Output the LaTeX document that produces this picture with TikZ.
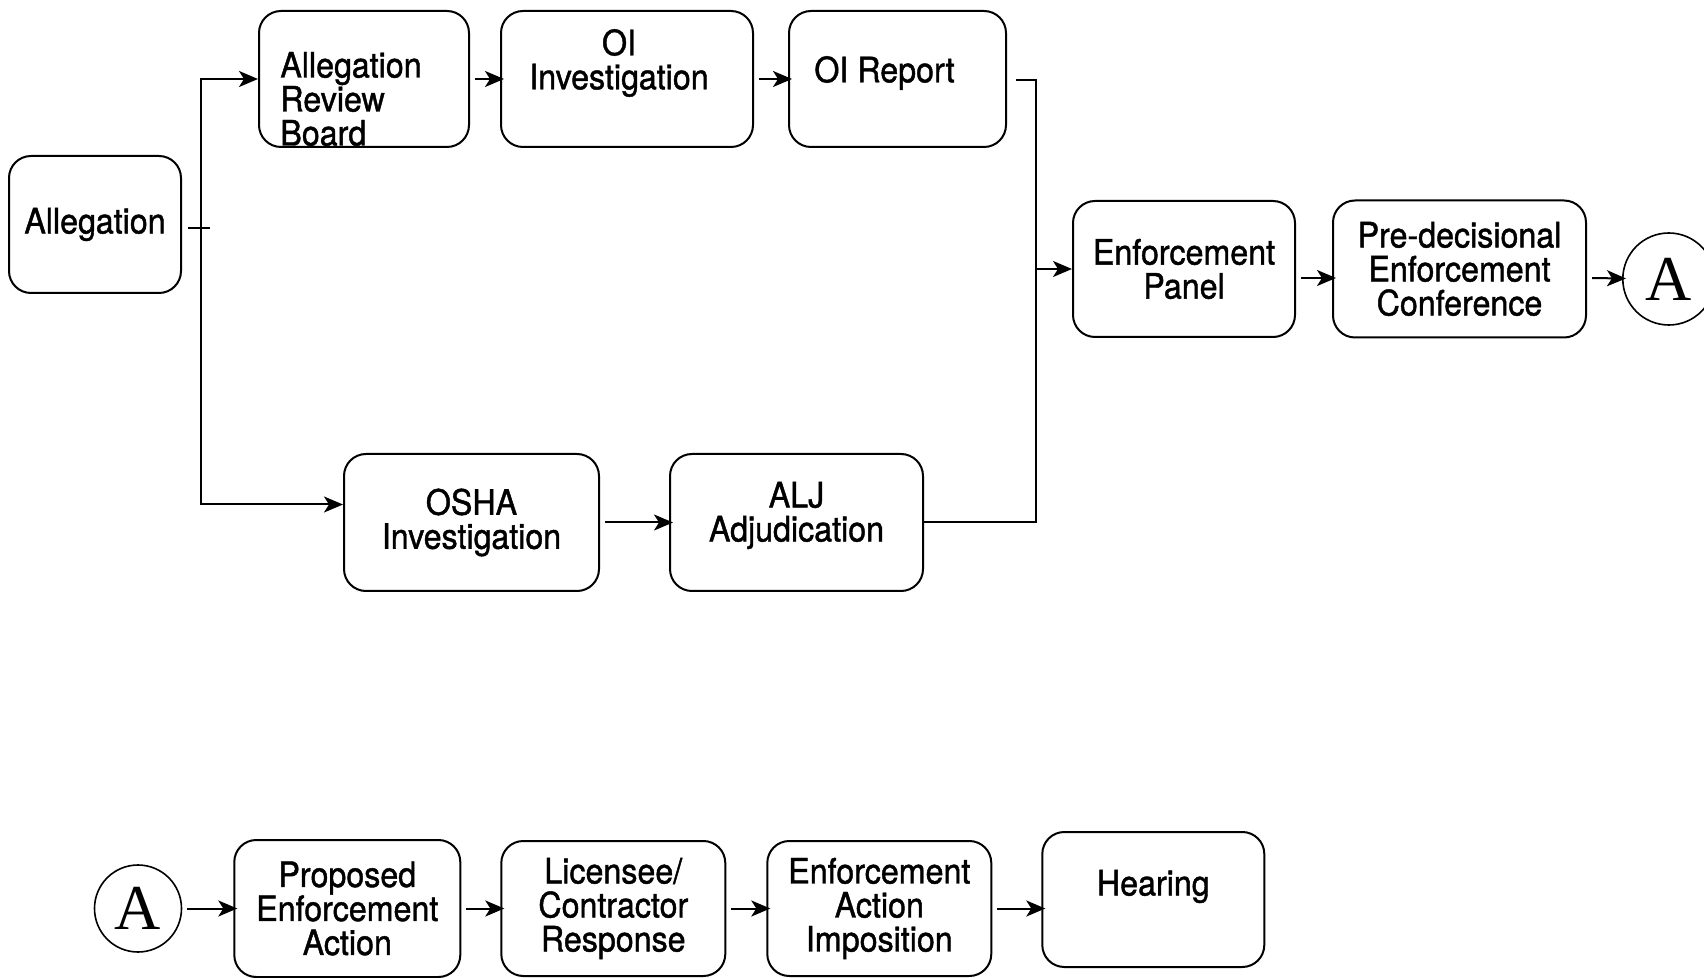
\documentclass[tikz,border=0pt]{standalone}
\usepackage{fontspec}
\setmainfont{TeX Gyre Heros}[FakeStretch=0.92,FakeBold=1.2]
\newfontfamily\letterfont{Liberation Serif}
\usetikzlibrary{positioning,calc,arrows.meta}

\tikzset{
  stagetext/.style={font=\fontsize{17.5}{17}\selectfont,inner sep=0pt},
  stage/.style={draw,rounded corners=11pt,line width=1pt,inner sep=0pt,align=center,stagetext},
  offpage/.style={draw,circle,line width=0.8pt,inner sep=0pt,font=\letterfont\fontsize{32}{32}\selectfont},
  flow/.style={->,shorten <=2.5pt,shorten >=-2pt},
}

\begin{document}
\begin{tikzpicture}[x=0.5pt,y=-0.5pt,line width=1pt,>={Stealth[length=9.5pt,width=8pt,inset=2.5pt]}]
\useasboundingbox (0,0) rectangle (1704,978);
\node[stage,minimum width=86pt,minimum height=68.5pt] (alleg) at (95,224.5) {Allegation};
\node[stage,minimum width=105pt,minimum height=68pt,
      label={[stagetext,align=left,xshift=-6.5pt,yshift=-10pt]center:Allegation\\Review\\Board}] (arb) at (364,79) {};
\node[stage,minimum width=126pt,minimum height=68pt,right=15pt of arb,
      label={[stagetext,align=center,xshift=-4pt,yshift=8pt]center:OI\\Investigation}] (oi) {};
\node[stage,minimum width=108.5pt,minimum height=68pt,right=17pt of oi,
      label={[stagetext,xshift=-6.5pt,yshift=3pt]center:OI Report}] (oir) {};
\node[stage,minimum width=111pt,minimum height=68pt] (ep) at (1184,269) {Enforcement\\Panel};
\node[stage,minimum width=126.5pt,minimum height=68.5pt,right=18pt of ep] (pec) {Pre-decisional\\Enforcement\\Conference};
\node[offpage,minimum size=46pt,right=17.5pt of pec,yshift=-5pt] (atop) {A};
\node[stage,minimum width=127.5pt,minimum height=68.5pt] (osha) at (471.5,522.5) {OSHA\\Investigation};
\node[stage,minimum width=126.5pt,minimum height=68.5pt,right=34.5pt of osha,
      label={[stagetext,align=center,yshift=3.5pt]center:ALJ\\Adjudication}] (alj) {};
\node[offpage,minimum size=43.5pt] (abot) at (138,908.5) {A};
\node[stage,minimum width=113pt,minimum height=68.5pt,right=25.5pt of abot] (prop) {Proposed\\Enforcement\\Action};
\node[stage,minimum width=112pt,minimum height=67.5pt,right=19.5pt of prop] (lic) {Licensee/\\Contractor\\Response};
\node[stage,minimum width=112pt,minimum height=67.5pt,right=20pt of lic] (eai) {Enforcement\\Action\\Imposition};
\node[stage,minimum width=111pt,minimum height=67.5pt,right=24.5pt of eai,yshift=4.5pt,
      label={[stagetext,yshift=6.5pt]center:Hearing}] (hear) {};
\coordinate (split) at (201,228);
\coordinate (tick)  at (210,228);
\coordinate (merge) at (1036,80);
% left branch
\draw[shorten <=3pt] (alleg.east |- split) -- (tick);
\draw[<->] (arb.west) -| (split) |- ($(osha.west)+(0,-18)$);
% right merge
\draw[shorten <=4.5pt] (oir.east |- merge) -- (merge) |- (alj.east);
\draw[->] (merge |- ep.west) -- (ep.west);
\path[flow]
	(arb)  edge (oi)
	(oi)   edge (oir)
	([yshift=-4.5pt]ep.east)  edge ([yshift=-4.5pt]pec.west)
	([yshift=-4.5pt]pec.east) edge (atop)
	(osha) edge (alj)
	(abot) edge (prop)
	(prop) edge (lic)
	(lic)  edge (eai)
	(eai)  edge (eai -| hear.west)
; %-path-%
\end{tikzpicture}
\end{document}
